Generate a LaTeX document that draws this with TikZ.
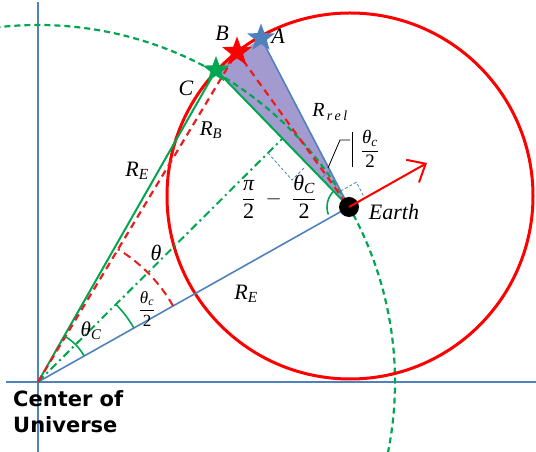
\documentclass[tikz,border=0pt]{standalone}
\usepackage{amsmath}
\usepackage{fontspec}
\setmainfont{Liberation Serif}
\newfontfamily\cufont{DejaVu Sans}
\usetikzlibrary{shapes.geometric,arrows.meta,calc}
\definecolor{oblue}{RGB}{79,129,189}
\definecolor{ogreen}{RGB}{0,166,80}
\definecolor{ored}{RGB}{255,0,0}
\definecolor{dred}{RGB}{232,30,30}
\definecolor{purp}{RGB}{163,155,207}
\newcommand\vi[1]{\text{\itshape #1}}
\newcommand\fsz[1]{\fontsize{#1}{#1}\selectfont}
\tikzset{
  axisline/.style={draw=oblue, line width=1.3pt},
  blueline/.style={draw=oblue, line width=1.6pt},
  greenline/.style={draw=ogreen, line width=2pt},
  gdash/.style={draw=ogreen, line width=2.2pt, dash pattern=on 6pt off 4pt},
  gdashdot/.style={draw=ogreen, line width=2pt, dash pattern=on 8pt off 4pt on 2pt off 4pt},
  reddash/.style={draw=dred, line width=2.2pt, dash pattern=on 7pt off 5pt},
  redcirc/.style={draw=ored, line width=3pt},
  garc/.style={draw=ogreen, line width=1.6pt},
  rarc/.style={draw=dred, line width=2pt, dash pattern=on 8pt off 5pt},
  rmark/.style={draw=oblue, line width=0.8pt, dash pattern=on 3pt off 2pt},
  callout/.style={draw=black, line width=0.8pt},
  starnode/.style={star, star points=5, star point ratio=2.4, inner sep=0pt},
  lab/.style={inner sep=0pt, text=black},
}
\begin{document}
\begin{tikzpicture}[x=1pt,y=1pt]
\useasboundingbox (0,0) rectangle (536,452);
\clip (0,0) rectangle (536,452);
% key points
\coordinate (O) at (38,70);
\coordinate (E) at (349,245);
\coordinate (C) at (216,382);
\coordinate (B) at (237,400);
\coordinate (A) at (261,414);
\coordinate (M) at (282.5,313.5);
\coordinate (RC) at (350,256);
\coordinate (T) at (427,289);
\coordinate (xl) at (6,70);
\coordinate (xr) at (536,70);
\coordinate (yb) at (38,0);
\coordinate (yt) at (38,450);
% purple triangle
\fill[purp] (A) -- (C) -- (E) -- cycle;
% axes
\draw[axisline] (xl) -- (xr);
\draw[axisline] (yb) -- (yt);
% circles
\draw[gdash] (O) ++(97:357) arc[start angle=97, end angle=-13, radius=357];
\draw[redcirc] (RC) circle[radius=183];
% lines
\draw[blueline] (O) -- (E);
\draw[greenline] (O) -- (C) -- (E);
\draw[gdashdot] (O) -- (M);
\draw[reddash] (O) -- (B) -- ($(B)!1.06!(E)$);
\draw[blueline] (A) -- (E);
% angle arcs at O
\draw[garc] (O) ++(29.37:53) arc[start angle=29.37, end angle=60.3, radius=53];
\draw[garc] (O) ++(29.37:110) arc[start angle=29.37, end angle=44.85, radius=110];
\draw[rarc] (O) ++(29.37:155) arc[start angle=29.37, end angle=59, radius=155];
% angle arcs at Earth
\draw[garc] (E) ++(134:22) arc[start angle=134, end angle=200, radius=22];
\draw[draw=oblue, line width=0.8pt] (E) ++(117.6:40) arc[start angle=117.6, end angle=134, radius=40];
% right angle markers
\draw[rmark] (340.7,261) -- (356.4,269.8) -- (364.7,253.8);
\draw[rmark] (268,299) -- (292,272) -- (305,285);
% earth and arrow
\node[circle, fill=black, minimum size=20pt, inner sep=0pt] (earth) at (E) {};
\draw[draw=ored, line width=2pt, -{Straight Barb[length=15pt,width=26pt,line width=2pt]}] (earth.center) -- (T);
% stars
\node[starnode, fill=ogreen, minimum size=28pt] (sC) at (C) {};
\node[starnode, fill=ored, minimum size=31pt] (sB) at (B) {};
\node[starnode, fill=oblue, minimum size=29pt] (sA) at (A) {};
% callout
\draw[callout] (328,284) -- (340,312) -- (350,312);
\draw[callout] (352,320) -- (352,285);
\node[lab] (lc) at (370,303) {\fsz{19}$\dfrac{\vi{θ}_{\vi{c}}}{\text{2}}$};
% labels
\node[lab] (lB) at (222,419) {\fsz{22}\itshape B};
\node[lab] (lA) at (278,416) {\fsz{22}\itshape A};
\node[lab] (lC) at (186,364) {\fsz{22}\itshape C};
\node[lab] (lRB) at (211,322) {\fsz{21}$\vi{R}_{\vi{B}}$};
\node[lab] (lRE1) at (137,281) {\fsz{22}$\vi{R}_{\vi{E}}$};
\node[lab] (lRE2) at (246,158) {\fsz{22}$\vi{R}_{\vi{E}}$};
\node[lab] (lRr) at (330,340) {\fsz{20}$\vi{R}_{\,\vi{r\,e\,l}}$};
\node[lab] (lEarth) at (394,240) {\fsz{22}\itshape Earth};
\node[lab] (lpi) at (279,255) {\fsz{22}$\dfrac{\vi{π}}{\text{2}}\;-\;\dfrac{\vi{θ}_{\vi{C}}}{\text{2}}$};
\node[lab] (lth) at (156,199) {\fsz{22}\itshape θ};
\node[lab] (lthc2) at (147,143) {\fsz{17}$\dfrac{\vi{θ}_{\vi{c}}}{\text{2}}$};
\node[lab] (lthC) at (91,121) {\fsz{21}$\vi{θ}_{\vi{C}}$};
\node[lab, anchor=base west] (cu1) at (13,45) {\cufont\bfseries\fsz{21}Center of};
\node[lab, anchor=base west] (cu2) at (13,19) {\cufont\bfseries\fsz{21}Universe};
\end{tikzpicture}
\end{document}
